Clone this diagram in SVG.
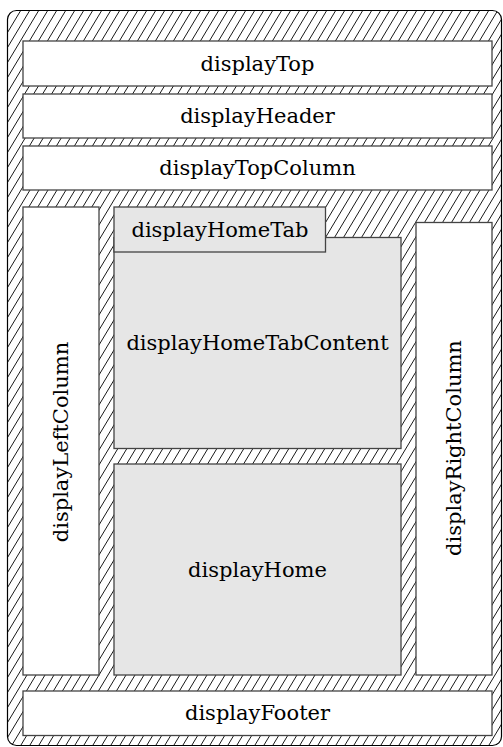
<svg xmlns="http://www.w3.org/2000/svg" width="503" height="747" viewBox="0 0 503 747">
<style>
.box{stroke:#444;stroke-width:1.3}
.w{fill:#fff}
.g{fill:#e6e6e6}
.t{font-size:21px;fill:#000;text-anchor:middle;dominant-baseline:central}
</style>
<defs>
<pattern id="hatch" patternUnits="userSpaceOnUse" width="9" height="15">
<rect width="9" height="15" fill="#fff"/>
<path d="M-1,16.667 L10,-1.667 M-10,16.667 L1,-1.667 M8,16.667 L19,-1.667" stroke="#000" stroke-width="0.9" fill="none"/>
</pattern>
</defs>
<g id="frame">
<rect x="7.5" y="10.5" width="494" height="735" rx="9" fill="url(#hatch)" stroke="#000" stroke-width="1.2"/>
</g>
<g id="connectors"></g>
<g font-family="DejaVu Serif, Liberation Serif, serif">
<g id="displayTop"><rect class="box w" x="23" y="41" width="469" height="45"/><text class="t" x="257.5" y="63.5">displayTop</text></g>
<g id="displayHeader"><rect class="box w" x="23" y="94" width="469" height="44"/><text class="t" x="257.5" y="116">displayHeader</text></g>
<g id="displayTopColumn"><rect class="box w" x="23" y="146" width="469" height="44"/><text class="t" x="257.5" y="168">displayTopColumn</text></g>
<g id="displayLeftColumn"><rect class="box w" x="23" y="207" width="76" height="468"/><text class="t" transform="translate(61,442) rotate(-90)">displayLeftColumn</text></g>
<g id="displayRightColumn"><rect class="box w" x="416" y="222.5" width="76" height="452.5"/><text class="t" transform="translate(454,448) rotate(-90)">displayRightColumn</text></g>
<g id="displayHomeTabContent"><rect class="box g" x="114" y="237.5" width="287" height="211"/><text class="t" x="257.5" y="343">displayHomeTabContent</text></g>
<g id="displayHomeTab"><rect class="box g" x="114" y="207" width="211.5" height="45"/><text class="t" x="220" y="229.5">displayHomeTab</text></g>
<g id="displayHome"><rect class="box g" x="114" y="464" width="287" height="211"/><text class="t" x="257.5" y="570">displayHome</text></g>
<g id="displayFooter"><rect class="box w" x="23" y="691" width="469" height="44.5"/><text class="t" x="257.5" y="713">displayFooter</text></g>
</g>
</svg>
